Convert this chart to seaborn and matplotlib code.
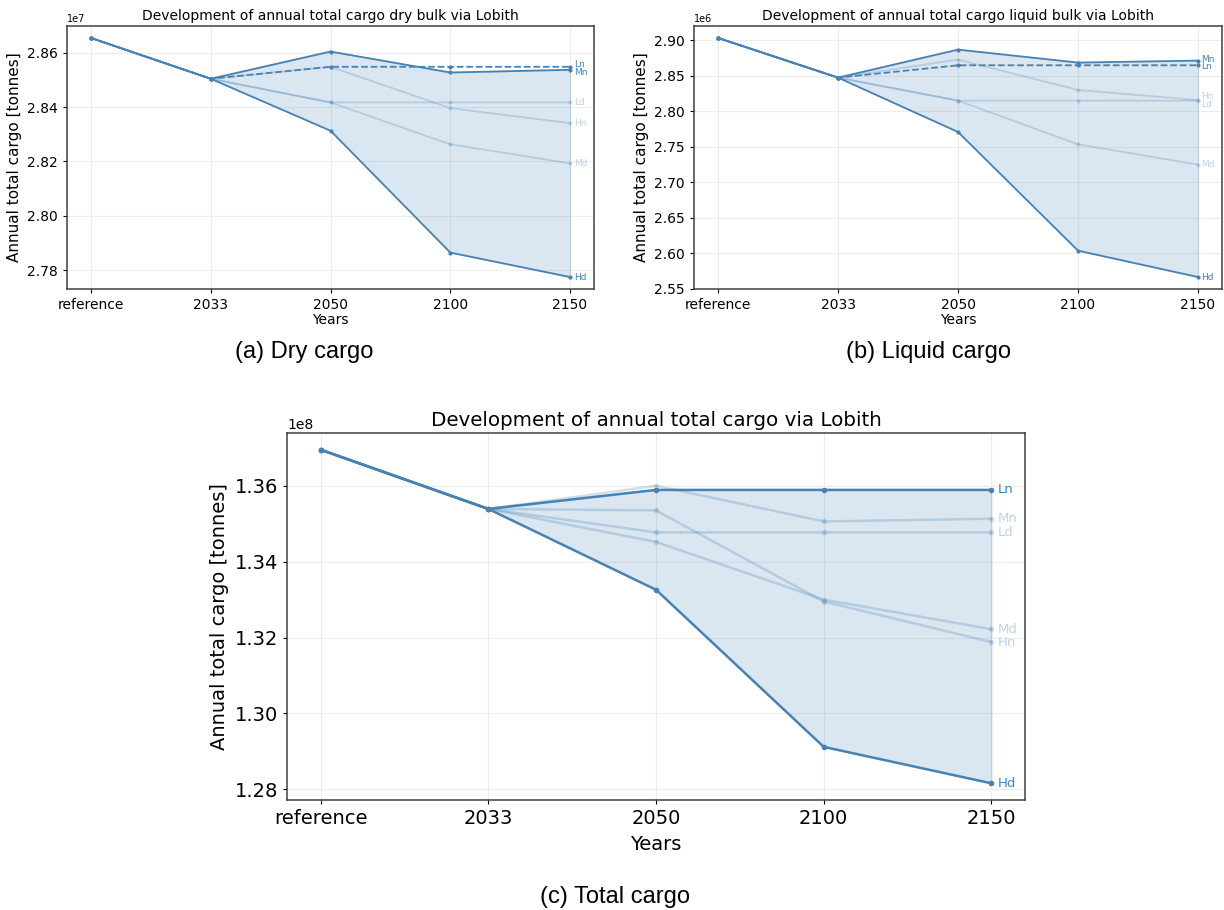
import matplotlib
matplotlib.use("Agg")
import matplotlib.pyplot as plt
import numpy as np
import pandas as pd
import seaborn as sns

# ---------------- data ----------------
periods = ["reference", "2033", "2050", "2100", "2150"]
scenarios = ["Ln", "Mn", "Hn", "Ld", "Md", "Hd"]

# Dry bulk (tonnes)
dry_Ln = [2.8654e7, 2.8504e7, 2.8548e7, 2.8548e7, 2.8548e7]
dry_Mn = [2.8654e7, 2.8504e7, 2.8604e7, 2.8527e7, 2.8537e7]
dry_Hn = [2.8654e7, 2.8504e7, 2.8548e7, 2.8396e7, 2.8341e7]
dry_Ld = [2.8654e7, 2.8504e7, 2.8417e7, 2.8417e7, 2.8417e7]
dry_Md = [2.8654e7, 2.8504e7, 2.8417e7, 2.8263e7, 2.8193e7]
dry_Hd = [2.8654e7, 2.8504e7, 2.8313e7, 2.7865e7, 2.7775e7]

# Liquid bulk (tonnes)
liq_Ln = [2.9033e6, 2.8474e6, 2.8648e6, 2.8648e6, 2.8648e6]
liq_Mn = [2.9033e6, 2.8474e6, 2.8869e6, 2.8686e6, 2.8714e6]
liq_Hn = [2.9033e6, 2.8474e6, 2.8728e6, 2.8300e6, 2.8157e6]
liq_Ld = [2.9033e6, 2.8474e6, 2.8150e6, 2.8150e6, 2.8148e6]
liq_Md = [2.9033e6, 2.8474e6, 2.8150e6, 2.7534e6, 2.7248e6]
liq_Hd = [2.9033e6, 2.8474e6, 2.7708e6, 2.6036e6, 2.5664e6]

# Total cargo (tonnes)
tot_Ln = [1.3695e8, 1.3539e8, 1.3589e8, 1.3589e8, 1.3589e8]
tot_Mn = [1.3695e8, 1.3539e8, 1.3600e8, 1.3506e8, 1.3513e8]
tot_Hn = [1.3695e8, 1.3539e8, 1.3535e8, 1.3295e8, 1.3188e8]
tot_Ld = [1.3695e8, 1.3539e8, 1.3477e8, 1.3477e8, 1.3477e8]
tot_Md = [1.3695e8, 1.3539e8, 1.3452e8, 1.3300e8, 1.3222e8]
tot_Hd = [1.3695e8, 1.3539e8, 1.3326e8, 1.2912e8, 1.2816e8]

dry = dict(zip(scenarios, [dry_Ln, dry_Mn, dry_Hn, dry_Ld, dry_Md, dry_Hd]))
liq = dict(zip(scenarios, [liq_Ln, liq_Mn, liq_Hn, liq_Ld, liq_Md, liq_Hd]))
tot = dict(zip(scenarios, [tot_Ln, tot_Mn, tot_Hn, tot_Ld, tot_Md, tot_Hd]))

titles = ["Development of annual total cargo dry bulk via Lobith",
          "Development of annual total cargo liquid bulk via Lobith",
          "Development of annual total cargo via Lobith"]
captions = ["(a) Dry cargo", "(b) Liquid cargo", "(c) Total cargo"]
ylabel = "Annual total cargo [tonnes]"
xlabel = "Years"

# ---------------- style ----------------
sns.set_style("whitegrid", {"axes.edgecolor": "0.25", "grid.color": "0.93",
                            "xtick.bottom": True, "ytick.left": True,
                            "text.color": "black", "axes.labelcolor": "black",
                            "xtick.color": "black", "ytick.color": "black"})
plt.rcParams["font.family"] = ["DejaVu Sans"]
plt.rcParams["axes.linewidth"] = 1.1
plt.rcParams["xtick.major.size"] = 3
plt.rcParams["ytick.major.size"] = 3
plt.rcParams["text.color"] = "black"
plt.rcParams["axes.titlecolor"] = "black"

COL = "steelblue"

fig = plt.figure(figsize=(12.24, 9.10), dpi=100)
W, H = 1224, 910


def panel(ax, data, upper, lower, title, s):
    x = np.arange(len(periods))
    df = pd.DataFrame([(sc, i, v) for sc, vals in data.items() for i, v in enumerate(vals)],
                      columns=["scenario", "pos", "value"])
    up = np.array(data[upper])
    lo = np.array(data[lower])
    ax.fill_between(x[1:], lo[1:], up[1:], color=COL, alpha=0.2, linewidth=0.8,
                    edgecolor=COL, zorder=1)
    for sc in scenarios:
        d = df[df.scenario == sc]
        if sc in (upper, lower):
            kw = dict(alpha=1.0, linewidth=s["lw"], zorder=4)
        elif sc == "Ln":
            kw = dict(alpha=1.0, linewidth=s["lw"], linestyle="--", zorder=3)
        else:
            kw = dict(alpha=0.25, linewidth=s["lw"], zorder=2)
        sns.lineplot(data=d, x="pos", y="value", ax=ax, color=COL, marker="o",
                     markersize=s["ms"], markeredgewidth=0, **kw)
    ax.set_xticks(x)
    ax.set_xticklabels(periods, fontsize=s["tick"], color="black")
    ax.tick_params(axis="y", labelsize=s["tick"], labelcolor="black")
    ax.ticklabel_format(axis="y", style="sci", scilimits=(0, 0), useOffset=False)
    ax.yaxis.get_offset_text().set_fontsize(s["off"])
    ax.yaxis.get_offset_text().set_color("black")
    ax.set_title(title, fontsize=s["title"], pad=s["pad"], color="black")
    ax.set_xlabel(xlabel, fontsize=s["xl"], labelpad=s["xlp"], color="black")
    ax.set_ylabel(ylabel, fontsize=s["yl"], color="black")
    for sp in ax.spines.values():
        sp.set_visible(True)
    ax.grid(True, color="0.93", linewidth=0.8)
    ax.margins(x=0.05, y=0.05)

    # end labels with simple de-overlap
    fig.canvas.draw()
    finals = {sc: data[sc][-1] for sc in scenarios}
    disp = {sc: ax.transData.transform((4, v))[1] for sc, v in finals.items()}
    order = sorted(scenarios, key=lambda k: -disp[k])
    ypos = {k: disp[k] for k in order}
    sep = s["sep"]
    for _ in range(50):
        moved = False
        for a, b in zip(order[:-1], order[1:]):
            gap = ypos[a] - ypos[b]
            if gap < sep - 1e-6:
                shift = (sep - gap) / 2
                ypos[a] += shift
                ypos[b] -= shift
                moved = True
        if not moved:
            break
    inv = ax.transData.inverted()
    for sc in scenarios:
        yv = inv.transform((0, ypos[sc]))[1]
        strong = sc in (upper, lower) or sc == "Ln"
        ax.text(4 + s["dx"], yv, sc, color=COL, alpha=1.0 if strong else 0.35,
                fontsize=s["lab"], va="center", ha="left", zorder=5, clip_on=False)


small = dict(lw=1.3, ms=3, tick=10, off=7, title=10, pad=4, xl=10, xlp=1, yl=11,
             lab=6.5, dx=0.03, sep=7.5)
big = dict(lw=1.8, ms=4, tick=14, off=10, title=14.3, pad=5, xl=14, xlp=5, yl=14,
           lab=9.5, dx=0.04, sep=10)

ax_a = fig.add_axes([67 / W, 1 - 289 / H, 527 / W, 263 / H])
ax_b = fig.add_axes([694 / W, 1 - 289 / H, 528 / W, 263 / H])
ax_c = fig.add_axes([287 / W, 1 - 800 / H, 738 / W, 367 / H])

panel(ax_a, dry, "Mn", "Hd", titles[0], small)
panel(ax_b, liq, "Mn", "Hd", titles[1], small)
panel(ax_c, tot, "Ln", "Hd", titles[2], big)

cap_font = ["Liberation Sans", "DejaVu Sans"]
fig.text(304 / W, 1 - 352 / H, captions[0], ha="center", va="center", fontsize=17,
         family=cap_font, color="black")
fig.text(929 / W, 1 - 352 / H, captions[1], ha="center", va="center", fontsize=17,
         family=cap_font, color="black")
fig.text(615 / W, 1 - 897 / H, captions[2], ha="center", va="center", fontsize=17,
         family=cap_font, color="black")

fig.savefig("out.png", dpi=100)
